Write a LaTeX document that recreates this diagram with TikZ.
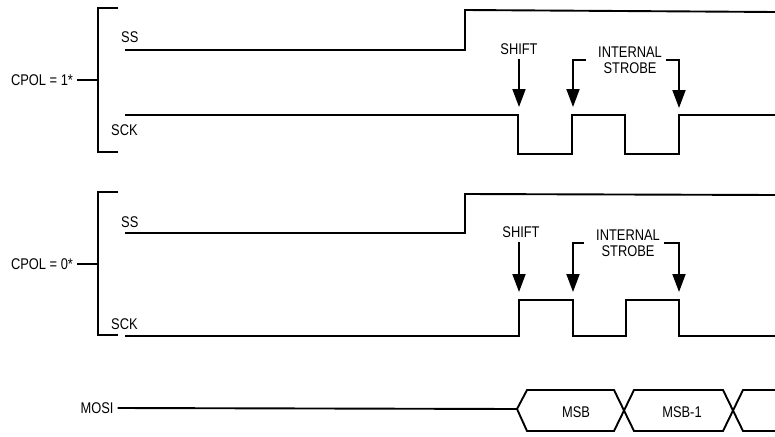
\documentclass[tikz,border=0pt]{standalone}
\usepackage{fontspec}
\setmainfont{Liberation Sans}[FakeStretch=0.83]
\usetikzlibrary{arrows.meta}
\begin{document}
\begin{tikzpicture}[x=1pt,y=-1pt,
  lbl/.style={font=\fontsize{15.5}{16}\selectfont, inner sep=0pt, text=black},
  sig/.style={line width=1.9pt, line join=miter, draw=black},
  arr/.style={line width=1.9pt, draw=black, -{Triangle[length=18pt,width=13pt]}}]
\useasboundingbox[fill=white] (0,0) rectangle (775,436);

% ---------- CPOL = 1 ----------
\node[lbl, inner xsep=4pt] (cpol1) at (42,80) {CPOL = 1*};
\coordinate (br1) at (98,80);
\draw[sig] (118,8) -- (98,8) -- (98,152) -- (118,152);
\draw[sig] (cpol1.east) -- (br1);
\node[lbl, anchor=west] (ss1) at (121,37) {SS};
\node[lbl, anchor=west] (sck1) at (111,130) {SCK};
\draw[sig] (125,50) -- (465,50) -- (465,10) -- (775,12);
\draw[sig] (125,115) -- (518,115) -- (518,154) -- (572,154) -- (572,115)
  -- (625,115) -- (625,154) -- (679,154) -- (679,115) -- (775,115);
\node[lbl] (shift1) at (519,49) {SHIFT};
\coordinate (sh1e) at (519,107);
\draw[arr] ([yshift=-4pt]sh1e |- shift1.south) -- (sh1e);
\node[lbl, align=center] (is1) at (630,60) {INTERNAL\\STROBE};
\coordinate (st1a) at (573,107);
\coordinate (st1b) at (679,108);
\draw[arr] ([xshift=-12pt]is1.west) -| (st1a);
\draw[arr] ([xshift=4pt]is1.east) -| (st1b);

% ---------- CPOL = 0 ----------
\node[lbl, inner xsep=4pt] (cpol0) at (42,264) {CPOL = 0*};
\coordinate (br0) at (98,264);
\draw[sig] (118,192) -- (98,192) -- (98,335) -- (118,335);
\draw[sig] (cpol0.east) -- (br0);
\node[lbl, anchor=west] (ss0) at (121,222) {SS};
\node[lbl, anchor=west] (sck0) at (111,324) {SCK};
\draw[sig] (125,233) -- (465,233) -- (465,194) -- (775,195);
\draw[sig] (125,336) -- (519,336) -- (519,300) -- (573,300) -- (573,336)
  -- (626,336) -- (626,300) -- (679,300) -- (679,336) -- (775,336);
\node[lbl] (shift0) at (521,232) {SHIFT};
\coordinate (sh0e) at (519,292);
\draw[arr] ([yshift=-4pt]sh0e |- shift0.south) -- (sh0e);
\node[lbl, align=center] (is0) at (628,243) {INTERNAL\\STROBE};
\coordinate (st0a) at (573,292);
\coordinate (st0b) at (679,292);
\draw[arr] ([xshift=-12pt]is0.west) -| (st0a);
\draw[arr] ([xshift=4pt]is0.east) -| (st0b);

% ---------- MOSI ----------
\node[lbl, inner xsep=4pt] (mosi) at (97,408) {MOSI};
\coordinate (hx) at (517,409);
\draw[sig] (mosi.east) -- (hx);
\draw[sig] (hx) -- (527,390) -- (614,390) -- (634,431) -- (723,431) -- (743,390) -- (775,390);
\draw[sig] (hx) -- (527,431) -- (614,431) -- (634,390) -- (723,390) -- (743,431) -- (775,431);
\node[lbl] (msb) at (576,412) {MSB};
\node[lbl] (msb1) at (682,412) {MSB-1};
\end{tikzpicture}
\end{document}
